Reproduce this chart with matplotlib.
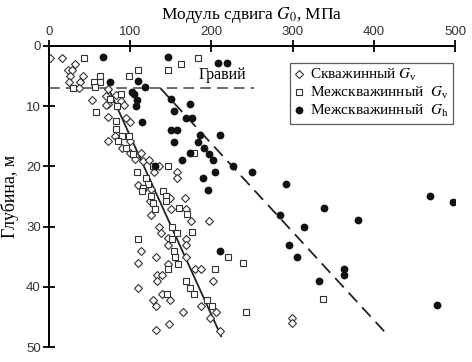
import matplotlib
matplotlib.use('Agg')
import matplotlib.pyplot as plt

plt.rcParams['mathtext.fontset'] = 'stix'

# Скважинный Gv (G, depth)
bh_gv_G = [1, 16, 32, 23, 28, 26, 42, 25, 38, 37, 53, 72, 70, 82, 88, 72, 92, 70, 73, 95, 100, 81, 72, 100,
           90, 100, 113, 106, 116, 123, 136, 129, 157, 157, 109, 126, 124, 149, 168, 126, 150, 169, 175, 197,
           136, 138, 147, 169, 169, 147, 113, 132, 169, 109, 146, 180, 187, 133, 139, 133, 202, 109, 139, 128,
           149, 132, 187, 165, 206, 198, 148, 132, 210, 299, 299]
bh_gv_d = [2, 2, 3, 4, 4, 5, 5, 6, 6, 7, 9, 7.2, 8.3, 8.2, 9.2, 9.6, 9.8, 9.75, 11.8, 11.9, 12.7, 14.9, 15.8, 15.8,
           16.9, 17.7, 17.8, 18.8, 19.1, 19, 20, 21, 21, 22, 23, 23.8, 25.8, 25.2, 25.2, 28, 27, 27, 29, 29,
           30.1, 31, 31.9, 32, 33, 33, 34.1, 35.1, 35.1, 36.1, 36.2, 37.1, 37.1, 38, 38, 39.1, 39.1, 40.1, 41.2, 42.1,
           42.1, 43.1, 43.1, 44.1, 44.2, 45.2, 46.1, 47.2, 47.3, 45.2, 46]

# Межскважинный Gv
ch_gv_G = [43, 184, 163, 146, 109, 98, 63, 63, 55, 56, 30, 88, 75, 84, 58, 82, 83, 90, 98, 85, 95, 103, 108,
           128, 147, 179, 119, 122, 116, 115, 140, 144, 125, 144, 128, 130, 160, 170, 176, 151, 157, 152, 110,
           154, 155, 159, 147, 204, 169, 173, 178, 145, 194, 201, 220, 239, 243, 337]
ch_gv_d = [2, 2, 3, 4, 4, 5, 5, 6, 6, 6.8, 7, 8, 8.8, 9.9, 10.9, 12.4, 13.8, 14.9, 14.9, 15.8, 16.9, 18, 20.9,
           20, 19.9, 17.8, 21.9, 22.9, 23.6, 24.1, 24, 24.9, 24.9, 25.8, 26, 27, 26.9, 27.9, 30.9, 30.1, 31, 32, 32,
           34, 35.1, 36.2, 37.1, 37, 39.1, 40.1, 41.2, 41.2, 42.1, 43.1, 35, 36, 44.2, 42]

# Межскважинный Gh
ch_gh_G = [67, 147, 208, 219, 75, 110, 118, 102, 104, 150, 108, 107, 174, 154, 169, 176, 115, 150, 158, 186,
           211, 154, 184, 191, 197, 173, 164, 202, 130, 226, 204, 250, 189, 292, 196, 469, 497, 339, 284, 380,
           314, 295, 211, 305, 363, 363, 333, 478]
ch_gh_d = [1.8, 1.8, 2.8, 2.8, 5.9, 5.8, 6.8, 7.7, 7.9, 8.8, 9, 9.9, 9.7, 10.8, 11.9, 11.9, 12.7, 13.9, 13.9, 14.8,
           14.8, 15.9, 16, 17, 18, 17.8, 18.9, 19, 20, 19.9, 20.9, 20.9, 22, 22.9, 23.9, 24.9, 25.9, 26.9, 28, 28.9,
           30, 33, 34, 35, 37, 38, 39, 43]

fit_v_G = [73, 212]
fit_v_d = [7, 48.2]
fit_h_G = [137, 413]
fit_h_d = [7, 47.4]
gravel_G = [0, 253]
gravel_d = [7, 7]

fig = plt.figure(figsize=(4.72, 3.62), dpi=100)
ax = fig.add_axes([0.104, 0.041, 0.860, 0.832])

ax.plot(gravel_G, gravel_d, color='#444444', lw=1.1, dashes=(7, 4))
ax.plot(fit_v_G, fit_v_d, color='#222222', lw=1.3)
ax.plot(fit_h_G, fit_h_d, color='#222222', lw=1.3, dashes=(7, 4))

ax.plot(bh_gv_G, bh_gv_d, 'D', ms=3.6, mfc='white', mec='#333333', mew=0.8, ls='none',
        label=r'Скважинный $G_\mathregular{v}$')
ax.plot(ch_gv_G, ch_gv_d, 's', ms=4.5, mfc='white', mec='#333333', mew=0.8, ls='none',
        label=r'Межскважинный  $G_\mathregular{v}$')
ax.plot(ch_gh_G, ch_gh_d, 'o', ms=4.6, color='#111111', ls='none',
        label=r'Межскважинный  $G_\mathregular{h}$')

ax.text(214, 4.9, 'Гравий', family='Liberation Serif', fontsize=11.5, ha='center', va='center')

ax.set_xlim(0, 500)
ax.set_ylim(50, 0)
ax.xaxis.set_ticks_position('top')
ax.xaxis.set_label_position('top')
ax.set_xticks([0, 100, 200, 300, 400, 500])
ax.set_yticks([0, 10, 20, 30, 40, 50])
ax.spines['right'].set_visible(False)
ax.spines['bottom'].set_visible(False)
ax.spines['top'].set_linewidth(1.4)
ax.spines['left'].set_linewidth(1.4)
ax.tick_params(axis='both', direction='inout', length=8, width=1.3, labelsize=9.5, pad=2,
               labelcolor='#333333')
for lab in ax.get_xticklabels() + ax.get_yticklabels():
    lab.set_family('Liberation Sans')

ax.set_xlabel(r'Модуль сдвига $G_0$, МПа', family='Liberation Serif', fontsize=12.5, labelpad=5)
ax.set_ylabel('Глубина, м', family='Liberation Serif', fontsize=13, labelpad=5)

leg = ax.legend(loc='upper right', bbox_to_anchor=(0.995, 0.945), prop={'family': 'Liberation Serif', 'size': 11},
                frameon=True, fancybox=False, edgecolor='#333333', handlelength=0.6, handletextpad=0.4,
                labelspacing=0.12, borderpad=0.3, borderaxespad=0)
leg.get_frame().set_linewidth(0.9)

fig.savefig('out.png', dpi=100)
